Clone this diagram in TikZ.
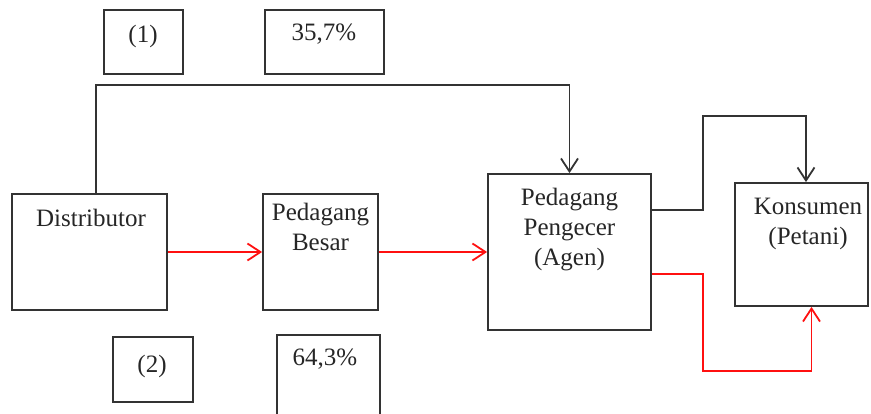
\documentclass[tikz,border=0pt]{standalone}
\usepackage{fontspec}
\setmainfont{Liberation Serif}
\usetikzlibrary{arrows.meta}
\definecolor{linec}{HTML}{333333}
\definecolor{redc}{HTML}{FF1010}
\begin{document}
\begin{tikzpicture}[x=1pt,y=-1pt,
  box/.style={draw=linec, line width=1.8pt, inner sep=0pt, fill=none},
  txt/.style={inner sep=0pt, align=center, anchor=base, text=black!85,
    font=\fontsize{25}{30}\selectfont},
  blk/.style={draw=linec, line width=1.8pt, -{Straight Barb[length=13pt,width=17pt,line width=1.8pt]}},
  rd/.style={draw=redc, line width=1.8pt, -{Straight Barb[length=13pt,width=17pt,line width=1.8pt]}}]
\useasboundingbox (0,0) rectangle (871,414);
\clip (0,0) rectangle (871,414);
% boxes
\node[box, minimum width=79, minimum height=64] (b1) at (143.5,42) {};
\node[box, minimum width=119, minimum height=64] (bp1) at (324.5,42) {};
\node[box, minimum width=155, minimum height=116] (dist) at (89.5,252) {};
\node[box, minimum width=115, minimum height=116] (besar) at (320.5,252) {};
\node[box, minimum width=163, minimum height=156] (agen) at (569.5,252) {};
\node[box, minimum width=133, minimum height=123] (kons) at (801.5,244.5) {};
\node[box, minimum width=80, minimum height=65] (b2) at (153,369.5) {};
\node[box, minimum width=103, minimum height=90] (bp2) at (328.5,380) {};
% texts
\node[txt] (t1) at (143,43) {(1)};
\node[txt] (tp1) at (324,41) {35,7\%};
\node[txt] (t2) at (152,372) {(2)};
\node[txt] (tp2) at (325,366) {64,3\%};
\node[txt] (tdist) at (91,227) {Distributor};
\node[txt] (tbesar) at (320.5,251) {Pedagang\\Besar};
\node[txt] (tagen) at (569.5,266) {Pedagang\\Pengecer\\(Agen)};
\node[txt] (tkons) at (808,245) {Konsumen\\(Petani)};
% connectors
\draw[blk] ([xshift=6.5pt]dist.north) -- ++(0,-108) -| (agen.north);
\draw[rd] (dist.east) -- (besar.west);
\draw[rd] (besar.east) -- (agen.west);
\draw[blk] ([yshift=42pt]agen.east) -| (703,116) -| ([xshift=4.5pt]kons.north);
\draw[rd] ([yshift=-22pt]agen.east) -| (703,371) -| ([xshift=10pt]kons.south);
\end{tikzpicture}
\end{document}
